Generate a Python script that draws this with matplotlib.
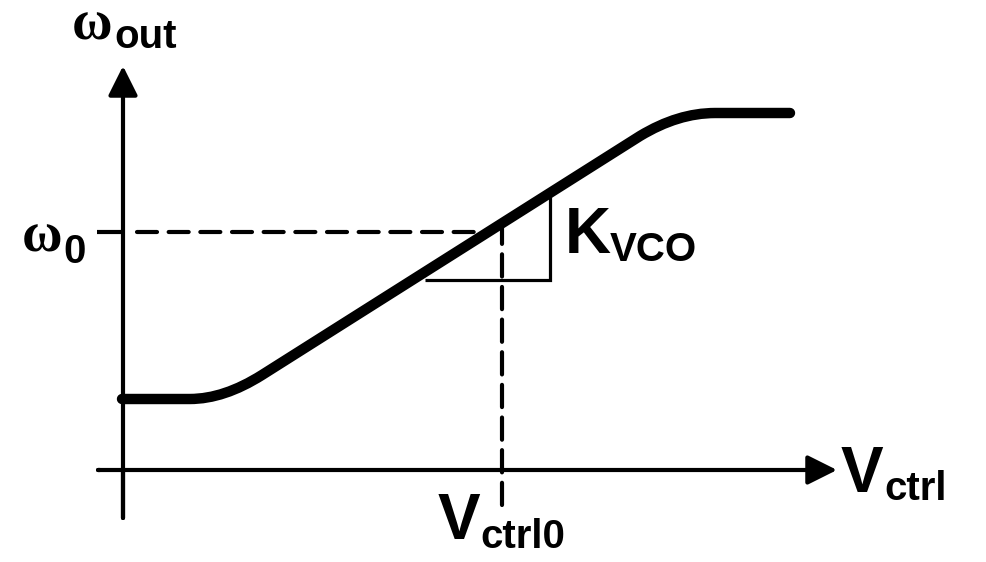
import matplotlib
matplotlib.use("Agg")
import matplotlib.pyplot as plt
from matplotlib.path import Path
from matplotlib.patches import PathPatch

# ---- data (diagram coordinates, pixel-like units) ----
curve_x = [122, 190, 224, 262, 640, 678, 715, 790]
curve_y = [399, 399, 399, 375, 136, 113, 113, 113]
curve_codes = [Path.MOVETO, Path.LINETO, Path.CURVE3, Path.CURVE3,
               Path.LINETO, Path.CURVE3, Path.CURVE3, Path.LINETO]

v_ctrl0 = 502          # operating-point control voltage (x)
omega0 = 232           # operating-point frequency (y)
kvco_x = [425, 550, 550]   # slope triangle
kvco_y = [280, 280, 196]

labels_main = ["ω", "ω", "K", "V", "V"]
labels_sub = ["out", "0", "VCO", "ctrl", "ctrl0"]

plt.rcParams['lines.scale_dashes'] = False

fig = plt.figure(figsize=(9.86, 5.62), dpi=100)
ax = fig.add_axes([0, 0, 1, 1])
ax.set_xlim(0, 986)
ax.set_ylim(562, 0)
ax.axis('off')

# axes with arrows
arrow_kw = dict(arrowstyle='-|>', mutation_scale=45, lw=3.0, color='black',
                shrinkA=0, shrinkB=0)
ax.annotate('', xy=(123, 66), xytext=(123, 518), arrowprops=arrow_kw)
ax.annotate('', xy=(837, 470), xytext=(98, 470), arrowprops=arrow_kw)
ax.plot([123, 123], [518, 470], color='black', lw=3.0, solid_capstyle='round')
ax.plot([98, 100], [470, 470], color='black', lw=3.0, solid_capstyle='round')

# dashed guide lines
ax.plot([97, 125], [omega0, omega0], color='black', lw=3.0, solid_capstyle='butt')
ax.plot([137, 490], [omega0, omega0], color='black', lw=3.0,
        dashes=(14.4, 8.4), dash_capstyle='round')
ax.plot([v_ctrl0, v_ctrl0], [505, 228], color='black', lw=3.0,
        dashes=(16.0, 7.5), dash_capstyle='round')

# slope triangle
ax.plot(kvco_x, kvco_y, color='black', lw=2.3, solid_joinstyle='miter',
        solid_capstyle='butt')

# transfer curve
path = Path(list(zip(curve_x, curve_y)), curve_codes)
ax.add_patch(PathPatch(path, facecolor='none', edgecolor='black', lw=7.5,
                       capstyle='round', joinstyle='round'))

# labels
serif = dict(family='Liberation Serif', weight='bold', size=40)
sans_main = dict(family='Liberation Sans', weight='bold', size=46)
sans_sub = dict(family='Liberation Sans', weight='bold', size=29)

ax.text(72, 39, labels_main[0], va='baseline', ha='left', fontdict=serif)
ax.text(114, 48, labels_sub[0], va='baseline', ha='left', fontdict=sans_sub)

ax.text(22, 252, labels_main[1], va='baseline', ha='left', fontdict=serif)
ax.text(63, 263, labels_sub[1], va='baseline', ha='left', fontdict=sans_sub)

ax.text(565, 253, labels_main[2], va='baseline', ha='left', fontdict=sans_main)
ax.text(610, 261, labels_sub[2], va='baseline', ha='left', fontdict=sans_sub)

ax.text(841, 492, labels_main[3], va='baseline', ha='left', fontdict=sans_main)
ax.text(884, 500, labels_sub[3], va='baseline', ha='left', fontdict=sans_sub)

ax.text(438, 539, labels_main[4], va='baseline', ha='left', fontdict=sans_main)
ax.text(480, 548, labels_sub[4], va='baseline', ha='left', fontdict=sans_sub)

fig.savefig('out.png', dpi=100, facecolor='white')
